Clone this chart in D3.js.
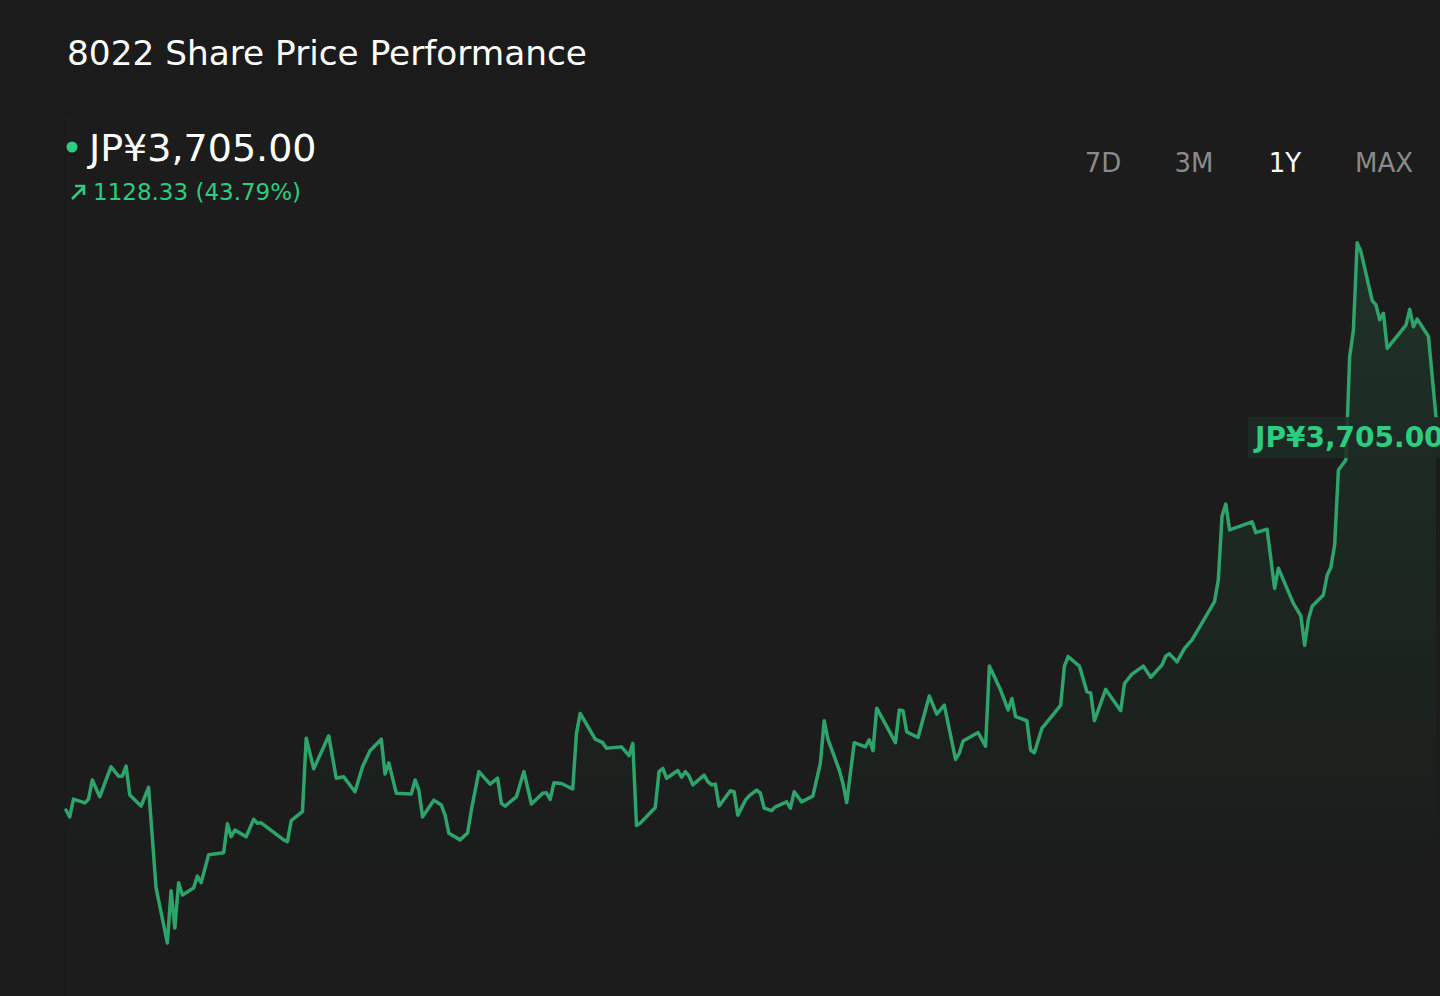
<!DOCTYPE html>
<html>
<head>
<meta charset="utf-8">
<script src="https://cdn.jsdelivr.net/npm/d3@7"></script>
<style>
  html, body { margin: 0; padding: 0; background: #1b1b1b; }
  svg { display: block; }
  text { font-family: "DejaVu Sans", sans-serif; }
</style>
</head>
<body>
<svg id="chart" width="1440" height="996"></svg>
<script>
// ---- data (day offset within the 1-year window, closing price in JPY) ----
const title = "8022 Share Price Performance";
const currentPrice = "JP¥3,705.00";
const changeText = "1128.33 (43.79%)";
const rangeButtons = ["7D", "3M", "1Y", "MAX"];
const activeRange = "1Y";

const days = [
  0, 1, 2, 5, 6, 7, 9, 12, 14, 15, 16, 17, 20, 22, 24, 27, 28, 29, 30, 31,
  34, 35, 36, 38, 42, 43, 44, 45, 48, 50, 51, 52, 58, 59, 60, 63, 64, 66, 70, 72,
  74, 77, 79, 81, 84, 85, 86, 88, 92, 93, 94, 95, 98, 100, 101, 102, 105, 107, 108, 110,
  113, 115, 116, 117, 120, 122, 124, 127, 128, 129, 130, 132, 135, 136, 137, 141, 143, 144, 148, 150,
  151, 152, 153, 157, 158, 159, 160, 163, 164, 165, 166, 167, 170, 171, 172, 173, 174, 177, 178, 179,
  181, 182, 184, 185, 186, 188, 189, 192, 193, 194, 196, 199, 201, 202, 203, 206, 207, 208, 210, 213,
  214, 215, 216, 221, 222, 223, 224, 227, 230, 232, 234, 237, 238, 239, 243, 245, 246, 249, 251, 252,
  253, 256, 257, 258, 260, 264, 265, 266, 267, 270, 272, 273, 274, 277, 281, 282, 284, 287, 289, 292,
  293, 294, 296, 298, 300, 306, 307, 308, 309, 310, 316, 317, 320, 322, 323, 327, 329, 330, 331, 332,
  335, 336, 337, 338, 339, 341, 342, 343, 344, 345, 348, 349, 350, 351, 352, 357, 358, 359, 360, 363,
  365
];
const prices = [
  2576.67, 2557, 2608, 2597, 2608, 2663, 2615, 2701, 2674, 2674, 2703, 2620, 2588, 2642, 2353, 2195, 2345, 2238, 2368, 2333,
  2353, 2387, 2368, 2448, 2454, 2537, 2500, 2519, 2500, 2550, 2539, 2540, 2491, 2486, 2546, 2572, 2783, 2695, 2790, 2668,
  2672, 2629, 2701, 2747, 2780, 2680, 2712, 2625, 2623, 2663, 2634, 2557, 2605, 2591, 2562, 2510, 2491, 2511, 2577, 2687,
  2651, 2668, 2596, 2588, 2615, 2687, 2594, 2625, 2626, 2607, 2655, 2653, 2637, 2797, 2854, 2780, 2770, 2754, 2758, 2733,
  2768, 2532, 2539, 2584, 2687, 2696, 2668, 2690, 2671, 2687, 2674, 2649, 2677, 2658, 2649, 2651, 2588, 2632, 2629, 2562,
  2605, 2617, 2634, 2625, 2582, 2575, 2586, 2600, 2582, 2629, 2600, 2617, 2712, 2833, 2780, 2692, 2653, 2598, 2770, 2758,
  2778, 2747, 2869, 2770, 2864, 2862, 2801, 2785, 2904, 2852, 2878, 2722, 2740, 2775, 2799, 2760, 2990, 2921, 2864, 2897,
  2845, 2833, 2749, 2741, 2811, 2864, 2878, 2990, 3017, 2990, 2916, 2913, 2833, 2923, 2862, 2940, 2967, 2990, 2958, 2993,
  3019, 3025, 3002, 3041, 3065, 3175, 3237, 3421, 3455, 3381, 3404, 3373, 3383, 3213, 3271, 3170, 3134, 3050, 3124, 3162,
  3194, 3251, 3274, 3338, 3553, 3582, 3878, 3955, 4205, 4180, 4039, 4027, 3984, 4003, 3902, 3969, 4014, 3964, 3986, 3936,
  3705
];

// ---- drawing ----
const W = 1440, H = 996;
const svg = d3.select("#chart");
const data = days.map((d, i) => ({ d, v: prices[i] }));

const x = d3.scaleLinear().domain([0, 365]).range([66, 1436]);
const y = d3.scaleLinear().domain([2000, 4500]).range([1010.9, 140.1]);

// background
svg.append("rect").attr("width", W).attr("height", H).attr("fill", "#1b1b1b");
svg.append("rect").attr("x", 66).attr("y", 115).attr("width", W - 66).attr("height", H - 115)
  .attr("fill", "#1b1c1b");

const defs = svg.append("defs");
const grad = defs.append("linearGradient").attr("id", "areaGrad")
  .attr("gradientUnits", "userSpaceOnUse")
  .attr("x1", 0).attr("x2", 0).attr("y1", y(d3.max(prices))).attr("y2", 880);
grad.append("stop").attr("offset", "0%").attr("stop-color", "#2e9e68").attr("stop-opacity", 0.17);
grad.append("stop").attr("offset", "100%").attr("stop-color", "#2e9e68").attr("stop-opacity", 0);

const area = d3.area().x(p => x(p.d)).y0(H).y1(p => y(p.v));
svg.append("path").datum(data).attr("d", area).attr("fill", "url(#areaGrad)");

const line = d3.line().x(p => x(p.d)).y(p => y(p.v));
svg.append("path").datum(data).attr("d", line)
  .attr("fill", "none").attr("stroke", "#2fa36c").attr("stroke-width", 3.5)
  .attr("stroke-linejoin", "round").attr("stroke-linecap", "round");

// last price label
const last = data[data.length - 1];
svg.append("rect").attr("x", 1248).attr("y", y(last.v)).attr("width", W - 1248).attr("height", 41)
  .attr("fill", "#1d2b24").attr("fill-opacity", 0.85);
svg.append("text").attr("x", 1255).attr("y", y(last.v) + 30)
  .attr("fill", "#2ecc80").attr("font-size", 28).attr("font-weight", "bold")
  .text(currentPrice);

// title
svg.append("text").attr("x", 67).attr("y", 65).attr("fill", "#ffffff").attr("font-size", 34.3)
  .text(title);

// price header
svg.append("circle").attr("cx", 72).attr("cy", 147).attr("r", 5.5).attr("fill", "#2ecc80");
svg.append("text").attr("x", 89).attr("y", 161).attr("fill", "#ffffff").attr("font-size", 38)
  .text(currentPrice);
// arrow icon
svg.append("path").attr("d", "M72,199 L84,187 M75,186 L84,186 L84,195")
  .attr("stroke", "#2ecc80").attr("stroke-width", 2.6).attr("fill", "none");
svg.append("text").attr("x", 93).attr("y", 200).attr("fill", "#2ecc80").attr("font-size", 23)
  .text(changeText);

// range buttons
const btnX = [1103, 1194, 1285, 1384];
rangeButtons.forEach((b, i) => {
  svg.append("text").attr("x", btnX[i]).attr("y", 172).attr("text-anchor", "middle")
    .attr("font-size", 26).attr("fill", b === activeRange ? "#ffffff" : "#8a8a8a")
    .text(b);
});
</script>
</body>
</html>
